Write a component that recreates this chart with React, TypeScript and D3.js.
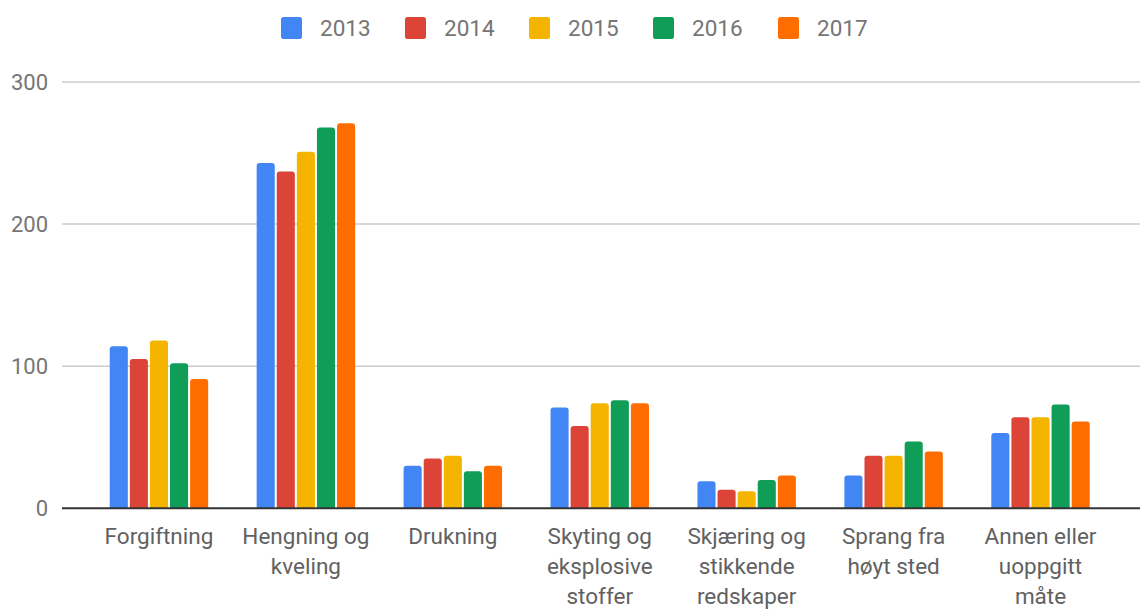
import React from "react";
import * as d3 from "d3";

const categories = [
  ["Forgiftning"],
  ["Hengning og", "kveling"],
  ["Drukning"],
  ["Skyting og", "eksplosive", "stoffer"],
  ["Skjæring og", "stikkende", "redskaper"],
  ["Sprang fra", "høyt sted"],
  ["Annen eller", "uoppgitt", "måte"],
];
const years = ["2013", "2014", "2015", "2016", "2017"];
const colors = ["#4285F4", "#DB4437", "#F4B400", "#0F9D58", "#FF6D00"];
const v2013 = [114, 243, 30, 71, 19, 23, 53];
const v2014 = [105, 237, 35, 58, 13, 37, 64];
const v2015 = [118, 251, 37, 74, 12, 37, 64];
const v2016 = [102, 268, 26, 76, 20, 47, 73];
const v2017 = [91, 271, 30, 74, 23, 40, 61];
const series = [v2013, v2014, v2015, v2016, v2017];
const yTicks = [0, 100, 200, 300];

export default function App() {
  const W = 1140, H = 609;
  const y = d3.scaleLinear().domain([0, 300]).range([508.3, 82]);
  const x0 = d3.scaleBand<number>().domain(d3.range(categories.length)).range([85.5, 1114]).paddingInner(0.33).paddingOuter(0.165);
  const x1 = d3.scaleBand<number>().domain(d3.range(years.length)).range([0, x0.bandwidth()]).paddingInner(0.1);
  const font = "Roboto, 'Noto Sans', sans-serif";
  const legendX = [281, 405, 529, 653, 778];
  return (
    <svg width={W} height={H} style={{ position: "absolute", left: 0, top: 0, background: "#fff" }} fontFamily={font}>
      {yTicks.map((t) => (
        <g key={t}>
          {t !== 0 && <line x1={62} x2={1140} y1={y(t)} y2={y(t)} stroke="#cccccc" strokeWidth={1.5} />}
          <text x={48} y={y(t)} dy="0.35em" textAnchor="end" fontSize={22} fill="#757575">{t}</text>
        </g>
      ))}
      {series.map((vals, si) =>
        vals.map((v, ci) => {
          const bx = (x0(ci) as number) + (x1(si) as number);
          const by = y(v);
          const bh = y(0) - by;
          const w = x1.bandwidth();
          const r = 3;
          const d = `M${bx},${y(0)}V${by + r}Q${bx},${by} ${bx + r},${by}H${bx + w - r}Q${bx + w},${by} ${bx + w},${by + r}V${y(0)}Z`;
          return <path key={`${si}-${ci}`} d={bh > r ? d : ""} fill={colors[si]} />;
        })
      )}
      <line x1={62} x2={1140} y1={y(0)} y2={y(0)} stroke="#333" strokeWidth={2} />
      {categories.map((lines, ci) => (
        <text key={ci} x={(x0(ci) as number) + x0.bandwidth() / 2} y={544} textAnchor="middle" fontSize={22.5} fill="#616161">
          {lines.map((l, li) => (
            <tspan key={li} x={(x0(ci) as number) + x0.bandwidth() / 2} dy={li === 0 ? 0 : 30}>{l}</tspan>
          ))}
        </text>
      ))}
      {years.map((yr, i) => (
        <g key={yr}>
          <rect x={legendX[i]} y={17} width={21} height={22} rx={2.5} fill={colors[i]} />
          <text x={legendX[i] + 39} y={28} dy="0.35em" fontSize={22.5} fill="#757575">{yr}</text>
        </g>
      ))}
    </svg>
  );
}
